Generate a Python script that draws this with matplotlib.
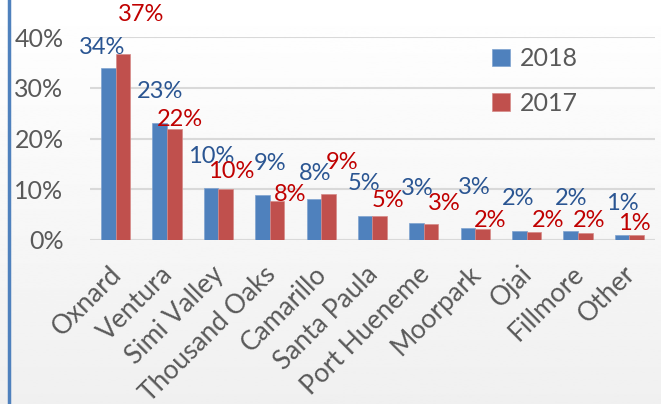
import numpy as np
import matplotlib
matplotlib.use("Agg")
import matplotlib.pyplot as plt
from matplotlib.transforms import ScaledTranslation

plt.rcParams['font.family'] = ['Lato', 'DejaVu Sans']

cities = ['Oxnard', 'Ventura', 'Simi Valley', 'Thousand Oaks', 'Camarillo',
          'Santa Paula', 'Port Hueneme', 'Moorpark', 'Ojai', 'Fillmore', 'Other']
share_2018 = [34.0, 23.0, 10.3, 8.8, 8.0, 4.7, 3.3, 2.4, 1.7, 1.7, 0.9]
share_2017 = [36.6, 21.8, 10.1, 7.7, 9.0, 4.7, 3.2, 2.2, 1.5, 1.4, 1.0]
label_2018 = ['34%', '23%', '10%', '9%', '8%', '5%', '3%', '3%', '2%', '2%', '1%']
label_2017 = ['37%', '22%', '10%', '8%', '9%', '5%', '3%', '2%', '2%', '2%', '1%']

# hand placed data label nudges (pixels from bar top centre), as in the source
nudge_2018 = [(-6, 20), (0, 32), (0, 31), (8, 32), (1, 26), (-1, 33),
              (1, 35), (6, 40), (-1, 33), (0, 33), (0, 32)]
nudge_2017 = [(18, 40), (6, 10), (6, 17), (13, 6), (14, 32), (8, 16),
              (13, 20), (8, 8), (14, 12), (4, 12), (-2, 11)]

blue = '#4F81BD'
red = '#C0504D'
grey = '#595959'

fig = plt.figure(figsize=(6.61, 4.04), dpi=100)

# soft background gradient and blue frame edge
bg = fig.add_axes([0, 0, 1, 1], zorder=-5)
grad = np.linspace(0.94, 1.0, 256).reshape(-1, 1)
bg.imshow(grad, aspect='auto', cmap='gray', vmin=0, vmax=1,
          extent=[0, 1, 0, 1], origin='lower')
bg.axvline(0.014, color=blue, lw=2.5)
bg.set_xlim(0, 1)
bg.set_ylim(0, 1)
bg.axis('off')

ax = fig.add_axes([0.136, 0.406, 0.855, 0.502])
ax.patch.set_alpha(0)
x = np.arange(len(cities))
w = 0.283
b1 = ax.bar(x - w / 2, share_2018, w, color=blue, label='2018', zorder=3,
            edgecolor='#7fa3d0', linewidth=0.5)
b2 = ax.bar(x + w / 2, share_2017, w, color=red, label='2017', zorder=3,
            edgecolor='#d68a88', linewidth=0.5)

for rect, txt, off in zip(b1, label_2018, nudge_2018):
    ax.annotate(txt, (rect.get_x() + rect.get_width() / 2, rect.get_height()),
                xytext=off, textcoords='offset pixels', ha='center',
                va='center', fontsize=17, color='#2A5592', zorder=5,
                annotation_clip=False)
for rect, txt, off in zip(b2, label_2017, nudge_2017):
    ax.annotate(txt, (rect.get_x() + rect.get_width() / 2, rect.get_height()),
                xytext=off, textcoords='offset pixels', ha='center',
                va='center', fontsize=17, color='#C00000', zorder=5,
                annotation_clip=False)

ax.set_xlim(-0.5, len(cities) - 0.5)
ax.set_ylim(0, 40)
ax.set_yticks([0, 10, 20, 30, 40])
ax.set_yticklabels(['0%', '10%', '20%', '30%', '40%'])
ax.yaxis.grid(True, color='#d9d9d9', lw=1.5, zorder=0)
ax.set_axisbelow(True)
for s in ax.spines.values():
    s.set_visible(False)
ax.tick_params(length=0, labelsize=18, colors=grey)
ax.tick_params(axis='y', pad=19)
ax.set_xticks(x)
ax.set_xticklabels(cities, rotation=45, ha='right', rotation_mode='anchor',
                   fontsize=19)
ax.tick_params(axis='x', pad=6)
shift = ScaledTranslation(-7 / 100, -13 / 100, fig.dpi_scale_trans)
for lab in ax.get_xticklabels():
    lab.set_transform(lab.get_transform() + shift)

ax.legend(loc='upper left', bbox_to_anchor=(0.672, 1.06), frameon=False,
          fontsize=18, labelcolor=grey, handlelength=0.7, handleheight=0.7,
          handletextpad=0.4, labelspacing=0.85)

fig.savefig('out.png', dpi=100)
